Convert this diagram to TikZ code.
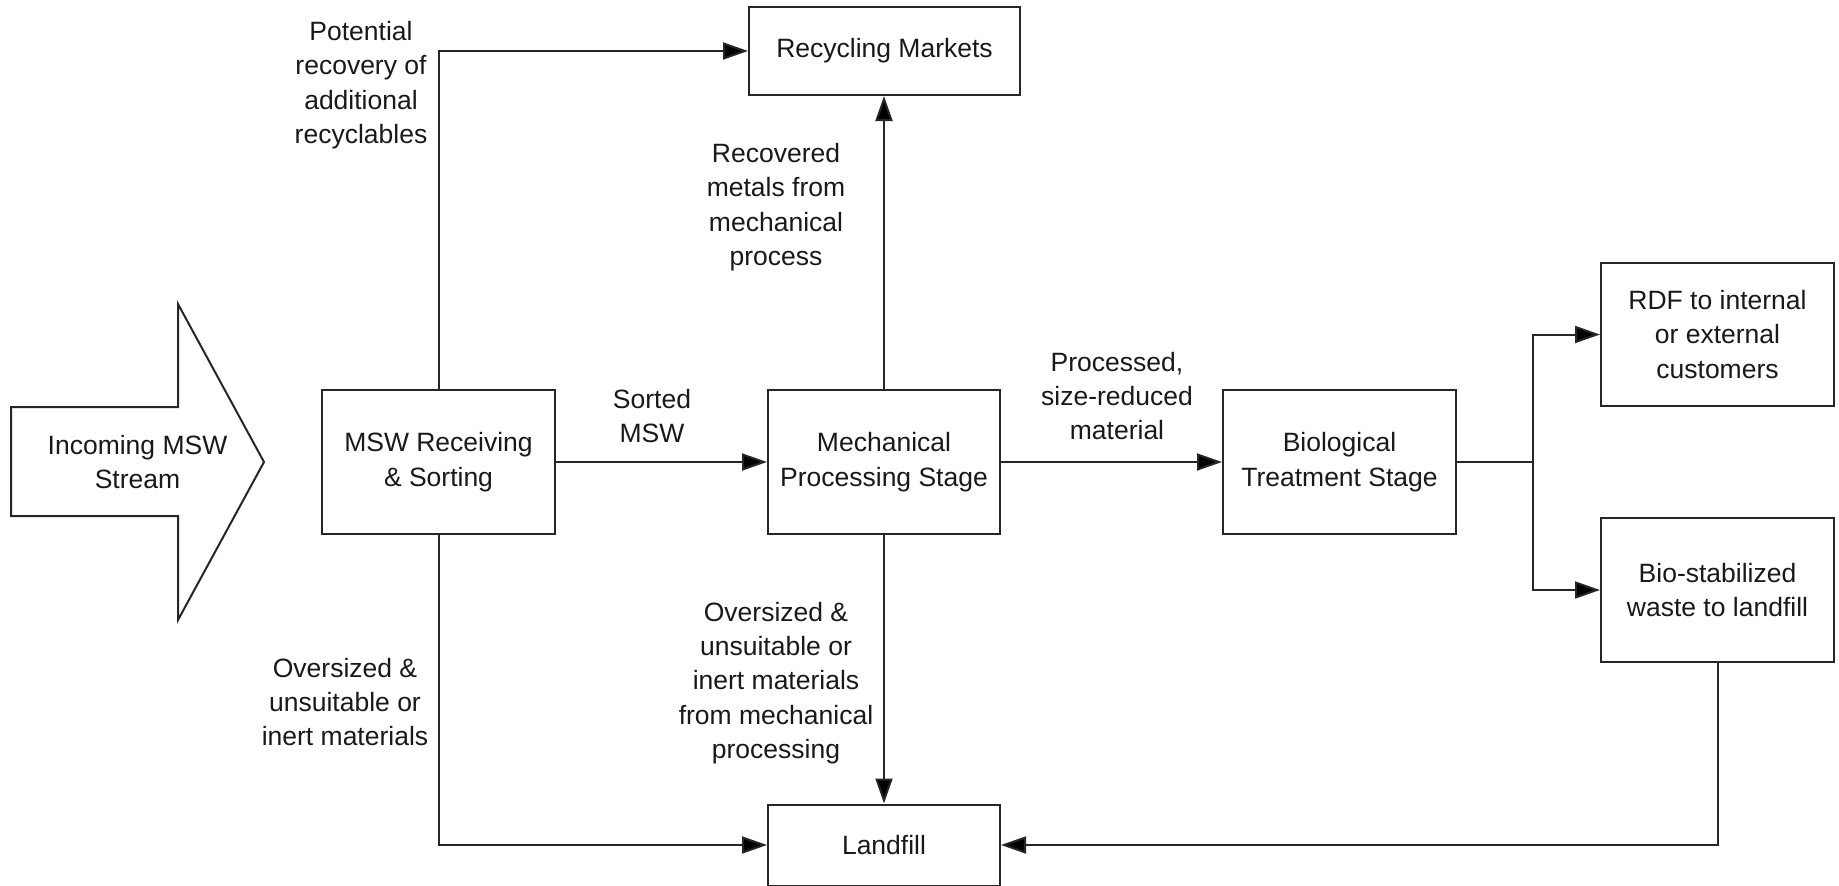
\documentclass[tikz,border=0pt]{standalone}
\usepackage{fontspec}
\setmainfont{Liberation Sans}
\usetikzlibrary{arrows.meta}
\begin{document}
\begin{tikzpicture}[x=1pt,y=-1pt,
  every node/.style={font=\fontsize{26.5pt}{34.3pt}\selectfont, align=center, inner sep=0pt, text=black!90},
  box/.style={draw=black!85, line width=2pt, fill=white, minimum width=233pt, minimum height=144pt},
  flow/.style={draw=black!85, line width=2pt, -{Triangle[length=25pt,width=17pt,fill=black]}},
  plain/.style={draw=black!85, line width=2pt}]
\useasboundingbox (0,0) rectangle (1839,886);
% incoming arrow shape
\draw[black!85, line width=2pt, fill=white] (11,407) -- (178,407) -- (178,304) -- (264,462) -- (178,620) -- (178,516) -- (11,516) -- cycle;
\node (in) at (137.5,462) {Incoming MSW\\Stream};
% boxes
\node[box] (recv) at (438.5,462) {MSW Receiving\\\& Sorting};
\node[box, minimum width=232pt] (mech) at (884,462) {Mechanical\\Processing Stage};
\node[box] (bio) at (1339.5,462) {Biological\\Treatment Stage};
\node[box, minimum width=271pt, minimum height=88pt] (recyc) at (884.5,51) {Recycling Markets};
\node[box, minimum width=232pt, minimum height=81pt] (land) at (884,845) {Landfill};
\node[box, minimum height=143pt] (rdf) at (1717.5,334.5) {RDF to internal\\or external\\customers};
\node[box] (bst) at (1717.5,590) {Bio-stabilized\\waste to landfill};
% connectors
\coordinate (br) at (1533,462);
\draw[flow] (recv.north) |- (recyc.west);
\draw[flow] (recv.south) |- (land.west);
\draw[flow] (recv.east) -- (mech.west);
\draw[flow] (mech.north) -- (mech.north |- recyc.south);
\draw[flow] (mech.south) -- (mech.south |- land.north);
\draw[flow] (mech.east) -- (bio.west);
\draw[plain] (bio.east) -- (br);
\draw[flow] (br) |- (rdf.west);
\draw[flow] (br) |- (bst.west);
\draw[flow] (bst.south) |- (land.east);
% labels
\node (lpot) at (361,85) {Potential\\recovery of\\additional\\recyclables};
\node (lsort) at (652,416) {Sorted\\MSW};
\node (lrec) at (776,207) {Recovered\\metals from\\mechanical\\process};
\node (lproc) at (1117,396) {Processed,\\size-reduced\\material};
\node (lover1) at (345,702) {Oversized \&\\unsuitable or\\inert materials};
\node (lover2) at (776,683) {Oversized \&\\unsuitable or\\inert materials\\from mechanical\\processing};
\end{tikzpicture}
\end{document}
